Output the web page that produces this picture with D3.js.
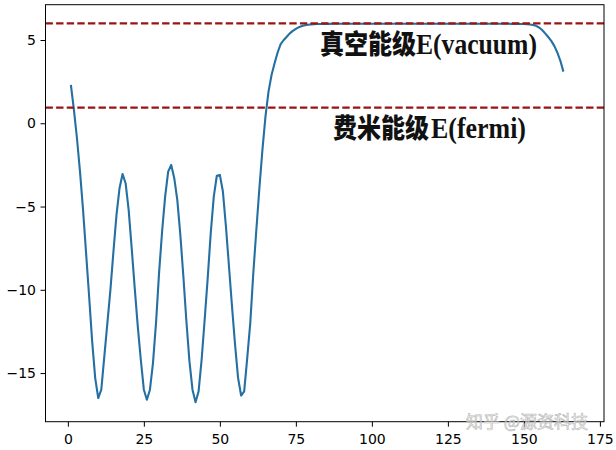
<!DOCTYPE html>
<html>
<head>
<meta charset="utf-8">
<script src="https://cdn.jsdelivr.net/npm/d3@7"></script>
<style>
  html, body { margin: 0; padding: 0; background: #fff; }
  svg { display: block; }
</style>
</head>
<body>
<svg id="chart" width="616" height="450"></svg>
<script>
// ---- data ----
const potential = [
  2.3, 0.8, -0.9, -2.9, -5.2, -7.8, -10.4, -13.1, -15.3, -16.5,
  -16.0, -14.0, -12.0, -10.0, -7.7, -5.5, -3.9, -3.05, -3.6, -5.2,
  -7.5, -9.9, -12.2, -14.2, -16.0, -16.6, -16.0, -14.4, -12.0, -9.0,
  -6.5, -4.4, -2.9, -2.5, -3.3, -4.6, -6.7, -9.2, -11.9, -14.3,
  -16.0, -16.75, -16.1, -14.2, -11.8, -9.3, -6.6, -4.4, -3.15, -3.1,
  -4.1, -6.2, -8.6, -11.0, -13.3, -15.3, -16.35, -16.1, -14.1, -12.0,
  -9.0, -6.4, -3.9, -1.6, 0.4, 1.9, 2.9, 3.6, 4.25, 4.75,
  5.0, 5.2, 5.4, 5.55, 5.67, 5.77, 5.84, 5.89, 5.92, 5.94,
  5.95, 5.96, 5.965, 5.97, 5.97, 5.97, 5.972, 5.974, 5.975, 5.976,
  5.977, 5.978, 5.978, 5.979, 5.98, 5.98, 5.98, 5.98, 5.98, 5.98,
  5.98, 5.98, 5.98, 5.98, 5.98, 5.98, 5.98, 5.98, 5.98, 5.98,
  5.98, 5.98, 5.98, 5.98, 5.98, 5.98, 5.98, 5.98, 5.98, 5.98,
  5.98, 5.98, 5.98, 5.98, 5.98, 5.98, 5.98, 5.98, 5.98, 5.98,
  5.98, 5.98, 5.98, 5.98, 5.98, 5.98, 5.98, 5.979, 5.978, 5.977,
  5.976, 5.975, 5.974, 5.973, 5.972, 5.97, 5.968, 5.966, 5.963, 5.96,
  5.95, 5.93, 5.9, 5.85, 5.75, 5.6, 5.4, 5.18, 4.95, 4.65,
  4.25, 3.75, 3.1
];
const positions = potential.map((_, i) => i + 1);
const vacuumLevel = 6.0;
const fermiLevel = 0.94;
const xTicks = [0, 25, 50, 75, 100, 125, 150, 175];
const yTicks = [-15, -10, -5, 0, 5];
const vacuumLabelCJK = "真空能级";
const vacuumLabelLatin = "E(vacuum)";
const fermiLabelCJK = "费米能级";
const fermiLabelLatin = "E(fermi)";
const watermark = "知乎 @源资科技";

// ---- layout ----
const L = 45.5, R = 604, T = 4.7, B = 421.7;
const svg = d3.select("#chart");

const x = d3.scaleLinear().domain([-7.35, 176.35]).range([L, R]);
const y = d3.scaleLinear().domain([-17.92, 7.12]).range([B, T]);

const fmt = d => d3.format("")(d);

// axes
const xAxis = svg.append("g")
  .attr("transform", `translate(0,${B})`)
  .call(d3.axisBottom(x).tickValues(xTicks).tickSize(5).tickPadding(7.5).tickFormat(fmt));
const yAxis = svg.append("g")
  .attr("transform", `translate(${L},0)`)
  .call(d3.axisLeft(y).tickValues(yTicks).tickSize(5).tickPadding(4.5).tickFormat(fmt));
[xAxis, yAxis].forEach(g => {
  g.select(".domain").remove();
  g.selectAll(".tick line").attr("stroke", "#000").attr("stroke-width", 1);
  g.selectAll(".tick text")
    .attr("fill", "#000")
    .style("font-family", "'DejaVu Sans', sans-serif")
    .style("font-size", "14px");
});

// clip
svg.append("clipPath").attr("id", "clip")
  .append("rect").attr("x", L).attr("y", T).attr("width", R - L).attr("height", B - T);

const plot = svg.append("g").attr("clip-path", "url(#clip)");

// curve
const line = d3.line().x((d, i) => x(positions[i])).y(d => y(d));
plot.append("path")
  .datum(potential)
  .attr("fill", "none")
  .attr("stroke", "#2470a2")
  .attr("stroke-width", 2.1)
  .attr("stroke-linejoin", "round")
  .attr("d", line);

// reference levels
[vacuumLevel, fermiLevel].forEach(v => {
  plot.append("line")
    .attr("x1", L).attr("x2", R)
    .attr("y1", y(v)).attr("y2", y(v))
    .attr("stroke", "#9a1414")
    .attr("stroke-width", 2.4)
    .attr("stroke-dasharray", "7.4,3.2");
});

// frame
svg.append("rect")
  .attr("x", L).attr("y", T).attr("width", R - L).attr("height", B - T)
  .attr("fill", "none").attr("stroke", "#000").attr("stroke-width", 1);

// labels
function label(xc, xl, base, cjk, latin, latinLen) {
  const g = svg.append("g").attr("transform", `translate(0,${base}) scale(1,1.16)`);
  g.append("text")
    .attr("x", xc).attr("y", 0)
    .style("font-family", "'Noto Sans CJK SC', sans-serif")
    .style("font-weight", 900)
    .style("font-size", "24px")
    .attr("fill", "#111")
    .text(cjk);
  g.append("text")
    .attr("x", xl).attr("y", 0)
    .attr("textLength", latinLen)
    .attr("lengthAdjust", "spacingAndGlyphs")
    .style("font-family", "'Liberation Serif', serif")
    .style("font-weight", 700)
    .style("font-size", "26px")
    .attr("fill", "#111")
    .text(latin);
}
label(320, 416, 53.5, vacuumLabelCJK, vacuumLabelLatin, 121);
label(333, 431, 138, fermiLabelCJK, fermiLabelLatin, 95);

// watermark
svg.append("text")
  .attr("x", 466).attr("y", 427.5)
  .style("font-family", "'Noto Sans CJK SC', sans-serif")
  .style("font-size", "17px")
  .attr("fill", "#fff").attr("fill-opacity", 0.6)
  .attr("stroke", "#aaa").attr("stroke-width", 0.7).attr("stroke-opacity", 0.8)
  .text(watermark);
</script>
</body>
</html>
